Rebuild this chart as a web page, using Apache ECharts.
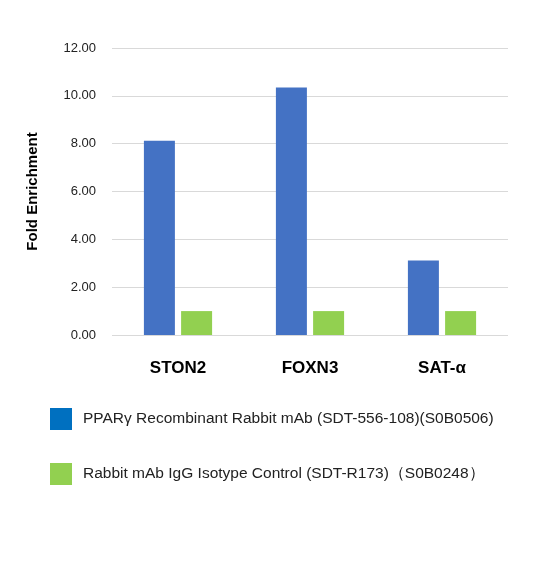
<!DOCTYPE html><html><head><meta charset="utf-8"><script src="https://cdn.jsdelivr.net/npm/echarts@6/dist/echarts.min.js"></script></head><body style="margin:0"><div id="c" style="width:557px;height:565px"></div><script>
const categories=['STON2','FOXN3','SAT-α'];
const ppar=[8.12,10.35,3.12];
const igg=[1.0,1.0,1.0];
const names=['PPARγ Recombinant Rabbit mAb (SDT-556-108)(S0B0506)','Rabbit mAb IgG Isotype Control (SDT-R173)（S0B0248）'];
const ch=echarts.init(document.getElementById('c'));
ch.setOption({
 animation:false,
 textStyle:{fontFamily:'Liberation Sans'},
 grid:{left:112,right:49,top:48,bottom:230},
 legend:{orient:'vertical',left:45,top:403,itemWidth:22,itemHeight:22,itemGap:33,icon:'rect',
  textStyle:{fontSize:15.5,color:'#222',padding:[0,0,0,6]},
  data:[{name:names[0],itemStyle:{color:'#0070C0'}},{name:names[1],itemStyle:{color:'#92D050'}}]},
 xAxis:{type:'category',data:categories,axisLine:{show:false},axisTick:{show:false},
  axisLabel:{fontSize:17,fontWeight:'bold',color:'#000',margin:25}},
 yAxis:{type:'value',min:0,max:12,interval:2,name:'Fold Enrichment',nameLocation:'middle',nameGap:72,
  nameTextStyle:{fontSize:15,fontWeight:'bold',color:'#000'},
  axisLabel:{formatter:v=>v.toFixed(2),fontSize:13,color:'#222',margin:16},
  splitLine:{lineStyle:{color:'#d9d9d9'}}},
 series:[{name:names[0],type:'bar',data:ppar,itemStyle:{color:'#4472C4'},barWidth:31,barGap:'20%'},
  {name:names[1],type:'bar',data:igg,itemStyle:{color:'#92D050'},barWidth:31}]
});
</script></body></html>
